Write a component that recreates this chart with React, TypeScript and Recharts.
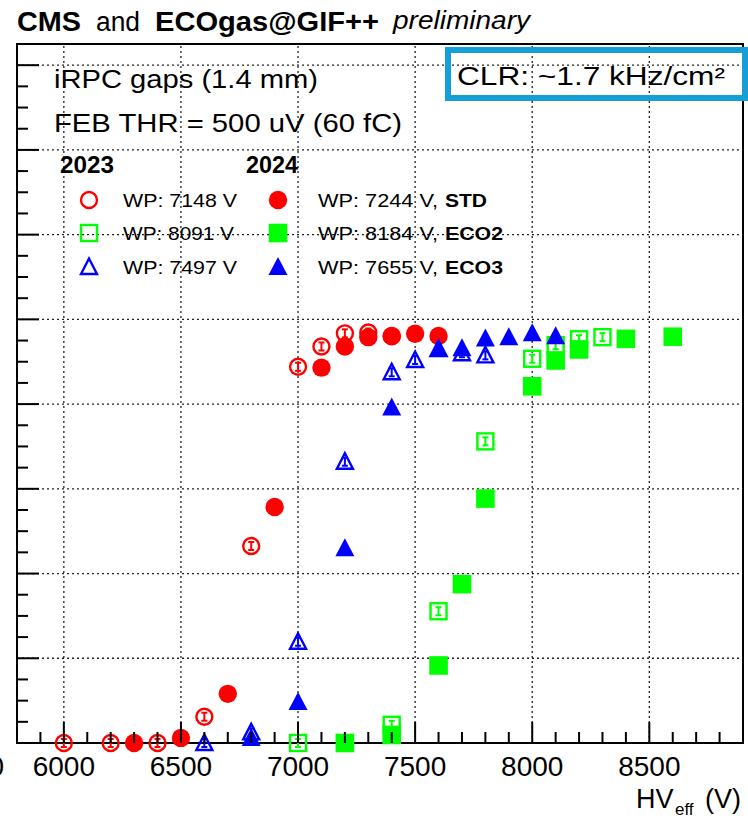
import React from 'react';
import { ScatterChart, Scatter, XAxis, YAxis, ReferenceLine, ReferenceArea } from 'recharts';

const FONT = '"Liberation Sans", Arial, Helvetica, sans-serif';
const RED = '#ff0000';
const GREEN = '#00ff00';
const BLUE = '#0000ff';

// 2023 runs (open markers)
const std2023HV = [6000, 6200, 6400, 6600, 6800, 7000, 7100, 7200, 7300, 7400];
const std2023Eff = [0, 0, 0, 0.062, 0.465, 0.888, 0.936, 0.967, 0.969, 0.96];
const eco2y2023HV = [7000, 7400, 7600, 7800, 8000, 8100, 8200, 8300];
const eco2y2023Eff = [0, 0.043, 0.311, 0.712, 0.907, 0.939, 0.953, 0.958];
const eco3y2023HV = [6600, 6800, 7000, 7200, 7400, 7500, 7600, 7700, 7800];
const eco3y2023Eff = [0, 0.025, 0.239, 0.664, 0.875, 0.904, 0.93, 0.92, 0.915];

// 2024 runs (filled markers)
const std2024HV = [6300, 6500, 6700, 6900, 7100, 7200, 7300, 7400, 7500, 7600];
const std2024Eff = [0, 0.012, 0.116, 0.557, 0.886, 0.936, 0.958, 0.961, 0.966, 0.961];
const eco2y2024HV = [7200, 7400, 7600, 7700, 7800, 8000, 8100, 8200, 8400, 8600];
const eco2y2024Eff = [0, 0.019, 0.183, 0.375, 0.577, 0.842, 0.903, 0.929, 0.954, 0.959];
const eco3y2024HV = [6800, 7000, 7200, 7400, 7600, 7700, 7800, 7900, 8000, 8100];
const eco3y2024Eff = [0.012, 0.097, 0.46, 0.792, 0.93, 0.932, 0.955, 0.958, 0.967, 0.96];

const xMajorTicks = [6000, 6500, 7000, 7500, 8000, 8500];
const yMajorTicks = [0.2, 0.4, 0.6, 0.8, 1.0, 1.2, 1.4, 1.6];

const xTicks: number[] = [];
for (let v = 5800; v <= 8900; v += 100) xTicks.push(v);
const yTicks: number[] = [];
for (let i = 0; i <= 33; i++) yTicks.push(+(i * 0.05).toFixed(2));

const zip = (xs: number[], ys: number[]) => xs.map((x, i) => ({ x, y: ys[i] }));

type Kind = 'circle' | 'square' | 'triangle';

const Marker = ({ cx, cy, kind, color, filled, bars = true }: { cx: number; cy: number; kind: Kind; color: string; filled: boolean; bars?: boolean }) => {
  let body;
  if (kind === 'circle') {
    body = filled
      ? <circle cx={cx} cy={cy} r={9.2} fill={color} />
      : <circle cx={cx} cy={cy} r={8} fill="none" stroke={color} strokeWidth={2.4} />;
  } else if (kind === 'square') {
    body = filled
      ? <rect x={cx - 9.3} y={cy - 9.3} width={18.6} height={18.6} fill={color} />
      : <rect x={cx - 8} y={cy - 8} width={16} height={16} fill="none" stroke={color} strokeWidth={2.4} />;
  } else {
    const pts = filled
      ? `${cx},${cy - 10} ${cx - 9.5},${cy + 8} ${cx + 9.5},${cy + 8}`
      : `${cx},${cy - 8.5} ${cx - 8},${cy + 7} ${cx + 8},${cy + 7}`;
    body = <polygon points={pts} fill={filled ? color : 'none'} stroke={filled ? 'none' : color} strokeWidth={2.4} strokeLinejoin="miter" />;
  }
  // small stat. error bar drawn inside the open markers
  const err = filled || !bars ? null : (
    <g stroke={color} strokeWidth={2}>
      <line x1={cx} x2={cx} y1={cy - 4} y2={cy + 4} />
      <line x1={cx - 3} x2={cx + 3} y1={cy - 4} y2={cy - 4} />
      <line x1={cx - 3} x2={cx + 3} y1={cy + 4} y2={cy + 4} />
    </g>
  );
  return <g>{body}{err}</g>;
};

const shapeOf = (kind: Kind, color: string, filled: boolean) => (p: any) =>
  <Marker cx={p.cx} cy={p.cy} kind={kind} color={color} filled={filled} />;

const XTick = (props: any) => {
  const { x, y, payload } = props;
  const major = payload.value % 500 === 0;
  return (
    <g>
      <line x1={x} x2={x} y1={y} y2={y - (major ? 21 : 11)} stroke="#000" strokeWidth={2} />
      {major && payload.value >= 6000 && payload.value <= 8500 && (
        <text x={x} y={y + 33} textAnchor="middle" fontSize={28} fontFamily={FONT} fill="#000">{payload.value}</text>
      )}
    </g>
  );
};

const YTick = (props: any) => {
  const { x, y, payload } = props;
  const r = payload.value / 0.2;
  const major = Math.abs(r - Math.round(r)) < 1e-6;
  return <line x1={x} x2={x + (major ? 22 : 11)} y1={y} y2={y} stroke="#000" strokeWidth={2} />;
};

const grid = { stroke: '#222', strokeWidth: 1.3, strokeDasharray: '2 3' };

const Overlay = () => (
  <svg width={748} height={818} style={{ position: 'absolute', left: 0, top: 0, pointerEvents: 'none' }} fontFamily={FONT}>
    <text x={17} y={31} fontSize={27} fontWeight="bold" textLength={64} lengthAdjust="spacingAndGlyphs">CMS</text>
    <text x={96} y={31} fontSize={27} textLength={44} lengthAdjust="spacingAndGlyphs">and</text>
    <text x={155} y={31} fontSize={27} fontWeight="bold" textLength={224} lengthAdjust="spacingAndGlyphs">ECOgas@GIF++</text>
    <text x={393} y={29} fontSize={25} fontStyle="italic" textLength={137} lengthAdjust="spacingAndGlyphs">preliminary</text>

    <text x={54} y={88} fontSize={25} textLength={264} lengthAdjust="spacingAndGlyphs">iRPC gaps (1.4 mm)</text>
    <text x={54} y={132} fontSize={25} textLength={348} lengthAdjust="spacingAndGlyphs">FEB THR = 500 uV (60 fC)</text>

    <rect x={448} y={50} width={297} height={48} fill="none" stroke="#169fd6" strokeWidth={6} />
    <text x={457} y={85} fontSize={26} textLength={268} lengthAdjust="spacingAndGlyphs">CLR: ~1.7 kHz/cm²</text>

    <text x={60} y={173} fontSize={23} fontWeight="bold" textLength={54} lengthAdjust="spacingAndGlyphs">2023</text>
    <text x={246} y={173} fontSize={23} fontWeight="bold" textLength={52} lengthAdjust="spacingAndGlyphs">2024</text>

    <Marker cx={89} cy={200} kind="circle" color={RED} filled={false} bars={false} />
    <Marker cx={89} cy={233} kind="square" color={GREEN} filled={false} bars={false} />
    <Marker cx={89} cy={267} kind="triangle" color={BLUE} filled={false} bars={false} />
    <text x={123} y={207} fontSize={19} textLength={114} lengthAdjust="spacingAndGlyphs">WP: 7148 V</text>
    <text x={123} y={240} fontSize={19} textLength={111} lengthAdjust="spacingAndGlyphs">WP: 8091 V</text>
    <text x={123} y={274} fontSize={19} textLength={114} lengthAdjust="spacingAndGlyphs">WP: 7497 V</text>

    <Marker cx={278} cy={200} kind="circle" color={RED} filled />
    <Marker cx={278} cy={233} kind="square" color={GREEN} filled />
    <Marker cx={278} cy={267} kind="triangle" color={BLUE} filled />
    <text x={318} y={207} fontSize={19} textLength={120} lengthAdjust="spacingAndGlyphs">WP: 7244 V,</text>
    <text x={318} y={240} fontSize={19} textLength={120} lengthAdjust="spacingAndGlyphs">WP: 8184 V,</text>
    <text x={318} y={274} fontSize={19} textLength={120} lengthAdjust="spacingAndGlyphs">WP: 7655 V,</text>
    <text x={445} y={207} fontSize={19} fontWeight="bold" textLength={42} lengthAdjust="spacingAndGlyphs">STD</text>
    <text x={445} y={240} fontSize={19} fontWeight="bold" textLength={58} lengthAdjust="spacingAndGlyphs">ECO2</text>
    <text x={445} y={274} fontSize={19} fontWeight="bold" textLength={58} lengthAdjust="spacingAndGlyphs">ECO3</text>

    <text x={4} y={776} fontSize={28} textAnchor="end">0</text>
    <text x={636} y={808} fontSize={27}>HV</text>
    <text x={675} y={815} fontSize={17}>eff</text>
    <text x={705} y={808} fontSize={27}>(V)</text>
  </svg>
);

export default function App() {
  return (
    <div style={{ position: 'absolute', left: 0, top: 0, width: 748, height: 818, background: '#fff' }}>
      <ScatterChart width={748} height={818} margin={{ top: 44, right: 5, bottom: 0, left: 0 }}>
        <XAxis
          type="number"
          dataKey="x"
          domain={[5800, 8900]}
          ticks={xTicks}
          interval={0}
          tickSize={0}
          tickMargin={0}
          tickLine={false}
          tick={XTick}
          height={75}
          axisLine={{ stroke: '#000', strokeWidth: 2 }}
        />
        <YAxis
          type="number"
          dataKey="y"
          domain={[0, 1.65]}
          ticks={yTicks}
          interval={0}
          tickSize={0}
          tickMargin={0}
          tickLine={false}
          tick={YTick}
          width={17}
          axisLine={{ stroke: '#000', strokeWidth: 2 }}
        />
        {xMajorTicks.map((v) => <ReferenceLine key={'x' + v} x={v} {...grid} />)}
        {yMajorTicks.map((v) => <ReferenceLine key={'y' + v} y={v} {...grid} />)}
        <ReferenceArea x1={5800} x2={8900} y1={0} y2={1.65} fill="none" fillOpacity={0} stroke="#000" strokeWidth={2} />
        <Scatter data={zip(std2023HV, std2023Eff)} shape={shapeOf('circle', RED, false)} isAnimationActive={false} />
        <Scatter data={zip(std2024HV, std2024Eff)} shape={shapeOf('circle', RED, true)} isAnimationActive={false} />
        <Scatter data={zip(eco2y2023HV, eco2y2023Eff)} shape={shapeOf('square', GREEN, false)} isAnimationActive={false} />
        <Scatter data={zip(eco2y2024HV, eco2y2024Eff)} shape={shapeOf('square', GREEN, true)} isAnimationActive={false} />
        <Scatter data={zip(eco3y2023HV, eco3y2023Eff)} shape={shapeOf('triangle', BLUE, false)} isAnimationActive={false} />
        <Scatter data={zip(eco3y2024HV, eco3y2024Eff)} shape={shapeOf('triangle', BLUE, true)} isAnimationActive={false} />
      </ScatterChart>
      <Overlay />
    </div>
  );
}
